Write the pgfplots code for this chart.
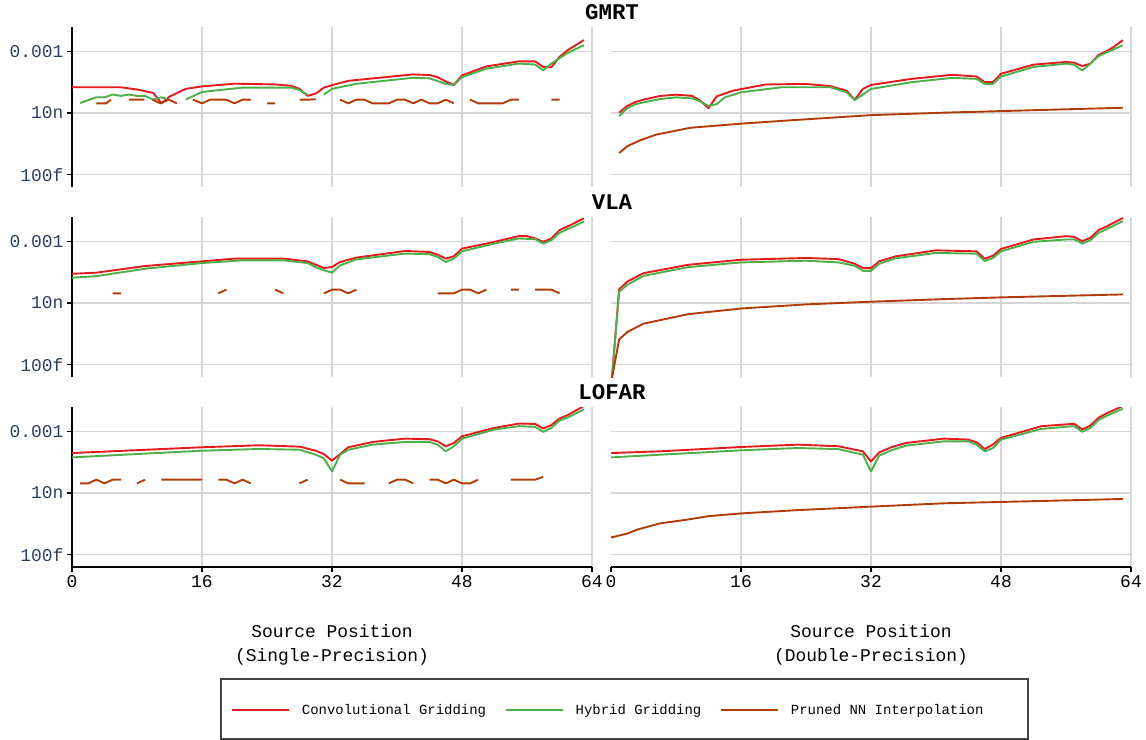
\documentclass[border=0pt]{standalone}
\usepackage{pgfplots}
\pgfplotsset{compat=1.18}
\usepackage{fontspec}
\setmainfont{Liberation Mono}
\setmonofont{Liberation Mono}
\definecolor{convred}{HTML}{E41A1C}
\definecolor{hybgreen}{HTML}{4DAF4A}
\definecolor{nnbrown}{HTML}{B23C08}
\definecolor{gridc}{HTML}{D6D6D6}
\definecolor{tickc}{HTML}{2A3F5F}
\definecolor{legc}{HTML}{444444}
\newcommand\tickfont{\fontsize{18}{18}\selectfont}
\newcommand\labfont{\fontsize{18}{24}\selectfont}
\newcommand\titfont{\fontsize{22.5}{22.5}\selectfont\bfseries}
\newcommand\legfont{\fontsize{14}{14}\selectfont}
\pgfplotsset{every axis/.append style={scale only axis, width=520bp, height=160bp,
    xmin=0, xmax=64, ymin=1e-14, ymax=0.0912,
    unbounded coords=jump,
    xtick={16,32,48,64}, ytick={1e-13,1e-8,1e-3},
    xmajorgrids, ymajorgrids, major grid style={line width=1.4bp, gridc},
    separate axis lines, axis x line*=bottom, axis y line*=left,
    axis line style={-, line width=2bp, black},
    tick align=outside, major tick length=5bp, tick style={line width=1.3bp, black},
    yticklabel style={font=\tickfont, text=tickc},
    xticklabel style={font=\tickfont, text=black}}}
\pgfplotsset{every axis plot/.append style={line width=1.9bp, line join=round}}
\begin{document}
\begin{tikzpicture}
\useasboundingbox (0,0) rectangle (1146bp,-740bp);
% ================= GMRT single
\begin{semilogyaxis}[at={(72bp,-27bp)}, anchor=north west,
  yticklabels={100f,10n,0.001}, yminorticks=false,
  xticklabels={}, xtick style={draw=none}, x axis line style={draw=none},
  legend image post style={xscale=3.34},
  legend style={at={(axis description cs:0.3058,-3.269)}, anchor=west, draw=none, fill=none,
    inner sep=0pt, font=\legfont, legend columns=3, legend cell align=left,
    /tikz/every odd column/.append style={column sep=10bp},
    /tikz/every even column/.append style={column sep=17bp}}]
\addplot[convred] coordinates {(0,1.20e-6)(6,1.20e-6)(8,7.94e-7)(10,4.17e-7)(11,6.03e-8)(12,2.09e-7)(14,8.91e-7)(16,1.41e-6)(20,2.34e-6)(25,2.04e-6)(27,1.58e-6)(28,8.91e-7)(29,2.40e-7)(30,3.72e-7)(31,1.12e-6)(32,1.78e-6)(34,3.98e-6)(42,1.32e-5)(44,1.17e-5)(45,7.94e-6)(46,3.55e-6)(47,1.90e-6)(48,1.10e-5)(51,5.89e-5)(55,1.51e-4)(57,1.51e-4)(58,5.25e-5)(59,5.01e-5)(60,3.47e-4)(61,1.20e-3)(63,7.94e-3)};
\addlegendentry{Convolutional Gridding}
\addplot[hybgreen] coordinates {(1,6.46e-8)(3,1.86e-7)(4,1.86e-7)(5,3.09e-7)(6,2.40e-7)(7,3.09e-7)(8,2.40e-7)(9,2.40e-7)(10,1.20e-7)(11,1.86e-7)(12,1.20e-7)(13,nan)(14,1.20e-7)(16,5.01e-7)(21,1.12e-6)(27,1.12e-6)(28,7.08e-7)(29,2.82e-7)(30,nan)(31,3.09e-7)(32,8.91e-7)(35,2.29e-6)(42,7.08e-6)(44,6.31e-6)(46,2.29e-6)(47,1.82e-6)(48,7.94e-6)(51,3.80e-5)(55,1.00e-4)(57,8.32e-5)(58,2.82e-5)(59,1.00e-4)(61,7.24e-4)(63,3.09e-3)};
\addlegendentry{Hybrid Gridding}
\addplot[nnbrown] coordinates {(3,5.96e-8)(4.2,5.96e-8)(4.8,1.19e-7)(6,nan)(7,1.19e-7)(8,1.19e-7)(8.9,1.19e-7)(9.4,nan)(9.9,1.19e-7)(10.9,5.96e-8)(11.9,1.19e-7)(12.9,5.96e-8)(14,nan)(14.9,1.19e-7)(16,5.96e-8)(17,1.19e-7)(19,1.19e-7)(20,5.96e-8)(21,1.19e-7)(22,1.19e-7)(23,nan)(24,5.96e-8)(25,5.96e-8)(26,nan)(28,1.19e-7)(29,1.19e-7)(30,1.30e-7)(31,nan)(33,1.19e-7)(34,5.96e-8)(35,1.19e-7)(36,1.19e-7)(37,5.96e-8)(39,5.96e-8)(40,1.19e-7)(41,1.19e-7)(42,5.96e-8)(43,1.19e-7)(44,5.96e-8)(45,5.96e-8)(46,1.19e-7)(47,5.96e-8)(48,nan)(49,1.19e-7)(50,5.96e-8)(53,5.96e-8)(54,1.19e-7)(55,1.19e-7)(56,nan)(59,1.19e-7)(60,1.19e-7)};
\addlegendentry{Pruned NN Interpolation}
\end{semilogyaxis}
% ================= GMRT double
\begin{semilogyaxis}[at={(611bp,-27bp)}, anchor=north west, yminorticks=false,
  yticklabels={}, ytick style={draw=none}, y axis line style={draw=none},
  xticklabels={}, xtick style={draw=none}, x axis line style={draw=none}]
\addplot[convred] coordinates {(1,1.07e-8)(2,3.72e-8)(3,7.59e-8)(4,1.20e-7)(6,2.34e-7)(8,3.02e-7)(10,2.40e-7)(11,9.55e-8)(12,2.40e-8)(13,2.19e-7)(15,6.31e-7)(19,2.00e-6)(24,2.24e-6)(27,1.48e-6)(29,6.31e-7)(30,1.17e-7)(31,8.71e-7)(32,1.86e-6)(37,5.75e-6)(42,1.23e-5)(45,8.91e-6)(46,3.09e-6)(47,3.09e-6)(48,1.48e-5)(52,8.13e-5)(56,1.35e-4)(57,1.17e-4)(58,6.31e-5)(59,9.77e-5)(60,5.01e-4)(61,1.00e-3)(62,2.51e-3)(63,7.94e-3)};
\addplot[hybgreen] coordinates {(1,5.62e-9)(2,2.40e-8)(3,5.01e-8)(4,7.08e-8)(6,1.32e-7)(8,1.82e-7)(10,1.51e-7)(11,8.51e-8)(12,3.72e-8)(13,5.13e-8)(14,1.82e-7)(16,4.68e-7)(21,1.20e-6)(27,1.20e-6)(29,4.68e-7)(30,1.10e-7)(32,8.71e-7)(37,3.09e-6)(42,6.92e-6)(45,5.75e-6)(46,2.24e-6)(47,2.24e-6)(48,8.91e-6)(52,5.25e-5)(56,9.77e-5)(57,8.13e-5)(58,2.75e-5)(59,9.77e-5)(60,3.98e-4)(61,7.94e-4)(63,3.09e-3)};
\addplot[nnbrown] coordinates {(1,5.62e-12)(2,2.00e-11)(3.5,5.75e-11)(5.6,1.78e-10)(9.8,6.31e-10)(16,1.35e-9)(22,2.51e-9)(32,6.61e-9)(41,1.05e-8)(48,1.41e-8)(63,2.63e-8)};
\end{semilogyaxis}
% ================= VLA single
\begin{semilogyaxis}[at={(72bp,-217bp)}, anchor=north west,
  yticklabels={100f,10n,0.001}, yminorticks=false,
  xticklabels={}, xtick style={draw=none}, x axis line style={draw=none}]
\addplot[convred] coordinates {(0,2.29e-6)(3,2.82e-6)(9,9.77e-6)(16,2.34e-5)(20,3.89e-5)(26,3.89e-5)(29,2.34e-5)(30,1.26e-5)(31,6.76e-6)(32,8.13e-6)(33,2.09e-5)(35,4.68e-5)(41,1.62e-4)(44,1.35e-4)(45,8.13e-5)(46,3.89e-5)(47,6.03e-5)(48,2.51e-4)(52,8.91e-4)(55,2.57e-3)(56,2.57e-3)(57,1.66e-3)(58,8.91e-4)(59,1.66e-3)(60,7.94e-3)(61,1.58e-2)(63,7.08e-2)};
\addplot[hybgreen] coordinates {(0,1.10e-6)(3,1.48e-6)(9,5.89e-6)(16,1.70e-5)(21,2.82e-5)(26,2.82e-5)(29,1.70e-5)(30,7.94e-6)(31,4.47e-6)(32,2.82e-6)(33,1.10e-5)(35,3.39e-5)(41,1.00e-4)(44,8.91e-5)(45,5.37e-5)(46,2.09e-5)(47,3.89e-5)(48,1.51e-4)(52,6.46e-4)(55,1.66e-3)(57,1.45e-3)(58,6.46e-4)(59,1.20e-3)(60,4.79e-3)(61,9.55e-3)(63,3.80e-2)};
\addplot[nnbrown] coordinates {(5,5.96e-8)(6,5.96e-8)(7,nan)(18,5.96e-8)(19,1.19e-7)(20,nan)(25,1.19e-7)(26,5.96e-8)(27,nan)(31,5.96e-8)(32,1.19e-7)(33,1.19e-7)(34,5.96e-8)(35,1.19e-7)(36,nan)(45,5.96e-8)(47,5.96e-8)(48,1.19e-7)(49,1.19e-7)(50,5.96e-8)(51,1.19e-7)(52,nan)(54,1.19e-7)(55,1.19e-7)(56,nan)(57,1.19e-7)(59,1.19e-7)(60,5.96e-8)};
\end{semilogyaxis}
% ================= VLA double
\begin{semilogyaxis}[at={(611bp,-217bp)}, anchor=north west, yminorticks=false,
  yticklabels={}, ytick style={draw=none}, y axis line style={draw=none},
  xticklabels={}, xtick style={draw=none}, x axis line style={draw=none}]
\addplot[convred] coordinates {(0,1e-15)(1,1.26e-7)(2,5.37e-7)(4,2.57e-6)(9.5,1.23e-5)(16,3.16e-5)(24,4.37e-5)(28,3.55e-5)(30,1.48e-5)(31,6.61e-6)(32,6.61e-6)(33,2.34e-5)(35,5.89e-5)(40,1.82e-4)(45,1.51e-4)(46,3.80e-5)(47,6.61e-5)(48,2.34e-4)(52,1.38e-3)(56,2.57e-3)(57,2.24e-3)(58,1.00e-3)(59,1.86e-3)(60,7.94e-3)(61,1.58e-2)(63,7.59e-2)};
\addplot[hybgreen] coordinates {(0,1e-15)(1,8.13e-8)(2,2.88e-7)(4,1.55e-6)(9.5,7.94e-6)(16,1.91e-5)(24,2.63e-5)(28,1.91e-5)(30,1.02e-5)(31,3.98e-6)(32,3.98e-6)(33,1.48e-5)(35,4.07e-5)(40,1.12e-4)(45,9.77e-5)(46,2.45e-5)(47,4.27e-5)(48,1.51e-4)(52,8.91e-4)(56,1.38e-3)(57,1.38e-3)(58,6.46e-4)(59,1.20e-3)(60,4.79e-3)(61,9.55e-3)(63,4.27e-2)};
\addplot[nnbrown] coordinates {(0,3e-15)(1,1.10e-11)(2,4.37e-11)(4,2.09e-10)(9.5,1.23e-9)(16,3.55e-9)(24,7.59e-9)(32,1.26e-8)(41,2.04e-8)(48,2.82e-8)(63,4.90e-8)};
\end{semilogyaxis}
% ================= LOFAR single
\begin{semilogyaxis}[at={(72bp,-407bp)}, anchor=north west,
  yticklabels={100f,10n,0.001}, yminorticks=false,
  xticklabels={16,32,48,64}, extra x ticks={0}, extra x tick labels={0},
  extra x tick style={xmajorgrids=false},
  xlabel={Source Position\\(Single-Precision)},
  xlabel style={font=\labfont, align=center, at={(axis description cs:0.5,0)}, anchor=north, yshift=-57bp, inner sep=0pt}]
\addplot[convred] coordinates {(0,1.70e-5)(16,5.01e-5)(23,7.24e-5)(28,5.62e-5)(30,2.63e-5)(31,1.41e-5)(32,4.07e-6)(33,1.41e-5)(34,5.01e-5)(37,1.35e-4)(41,2.51e-4)(44,2.24e-4)(45,1.51e-4)(46,6.03e-5)(47,1.12e-4)(48,3.89e-4)(52,1.86e-3)(55,4.17e-3)(57,3.89e-3)(58,1.66e-3)(59,3.16e-3)(60,1.07e-2)(61,2.00e-2)(63,1.10e-1)};
\addplot[hybgreen] coordinates {(0,7.59e-6)(16,2.63e-5)(23,3.63e-5)(28,3.16e-5)(30,1.26e-5)(31,6.31e-6)(32,5.50e-7)(33,1.26e-5)(34,3.16e-5)(37,8.13e-5)(41,1.35e-4)(44,1.35e-4)(45,8.13e-5)(46,2.34e-5)(47,6.03e-5)(48,2.51e-4)(52,1.38e-3)(55,2.57e-3)(57,2.24e-3)(58,8.91e-4)(59,1.86e-3)(60,7.41e-3)(61,1.26e-2)(63,5.89e-2)};
\addplot[nnbrown] coordinates {(1,5.96e-8)(2,5.96e-8)(3,1.19e-7)(4,5.96e-8)(5,1.19e-7)(6,1.19e-7)(7,nan)(8,5.96e-8)(9,1.19e-7)(10,nan)(11,1.19e-7)(16,1.19e-7)(17,nan)(18,1.19e-7)(19,1.19e-7)(20,5.96e-8)(21,1.19e-7)(22,5.96e-8)(23,nan)(28,5.96e-8)(29,1.19e-7)(30,nan)(33,1.19e-7)(34,5.96e-8)(36,5.96e-8)(37,nan)(39,5.96e-8)(40,1.19e-7)(41,1.19e-7)(42,5.96e-8)(43,nan)(44,1.19e-7)(45,1.19e-7)(46,5.96e-8)(47,1.19e-7)(48,5.96e-8)(49,5.96e-8)(50,1.19e-7)(51,nan)(54,1.19e-7)(57,1.19e-7)(58,2.0e-7)};
\end{semilogyaxis}
% ================= LOFAR double
\begin{semilogyaxis}[at={(611bp,-407bp)}, anchor=north west, yminorticks=false,
  yticklabels={}, ytick style={draw=none}, y axis line style={draw=none},
  xticklabels={16,32,48,64}, extra x ticks={0}, extra x tick labels={0},
  extra x tick style={xmajorgrids=false},
  xlabel={Source Position\\(Double-Precision)},
  xlabel style={font=\labfont, align=center, at={(axis description cs:0.5,0)}, anchor=north, yshift=-57bp, inner sep=0pt}]
\addplot[convred] coordinates {(0,1.70e-5)(6,2.34e-5)(16,5.25e-5)(23,8.13e-5)(28,6.03e-5)(31,2.34e-5)(32,3.55e-6)(33,1.91e-5)(34.5,5.01e-5)(36.3,1.12e-4)(41,2.51e-4)(44,2.09e-4)(45,1.26e-4)(46,3.63e-5)(47,8.32e-5)(48,2.88e-4)(53,2.57e-3)(57,3.98e-3)(58,1.38e-3)(59,2.88e-3)(60,1.23e-2)(61,2.82e-2)(63,1.10e-1)};
\addplot[hybgreen] coordinates {(0,7.59e-6)(16,2.82e-5)(23,4.37e-5)(28,3.55e-5)(31,1.26e-5)(32,5.50e-7)(33,1.05e-5)(34.5,2.82e-5)(36.3,6.76e-5)(41,1.51e-4)(44,1.51e-4)(45,8.13e-5)(46,2.34e-5)(47,4.37e-5)(48,2.09e-4)(53,1.55e-3)(57,2.57e-3)(58,8.91e-4)(59,1.86e-3)(60,7.94e-3)(61,1.78e-2)(63,6.61e-2)};
\addplot[nnbrown] coordinates {(0,2.45e-12)(2,5.13e-12)(3.3,1.10e-11)(6,3.39e-11)(9.5,7.08e-11)(12,1.32e-10)(16,2.19e-10)(23,4.07e-10)(32,7.76e-10)(41,1.45e-9)(48,1.86e-9)(63,3.24e-9)};
\end{semilogyaxis}
% ================= titles and legend frame
\node[font=\titfont] at (612bp,-12bp) {GMRT};
\node[font=\titfont] at (612bp,-202bp) {VLA};
\node[font=\titfont] at (612bp,-392bp) {LOFAR};
\draw[line width=2bp, legc] (221bp,-679bp) rectangle (1028bp,-739bp);
\end{tikzpicture}
\end{document}
